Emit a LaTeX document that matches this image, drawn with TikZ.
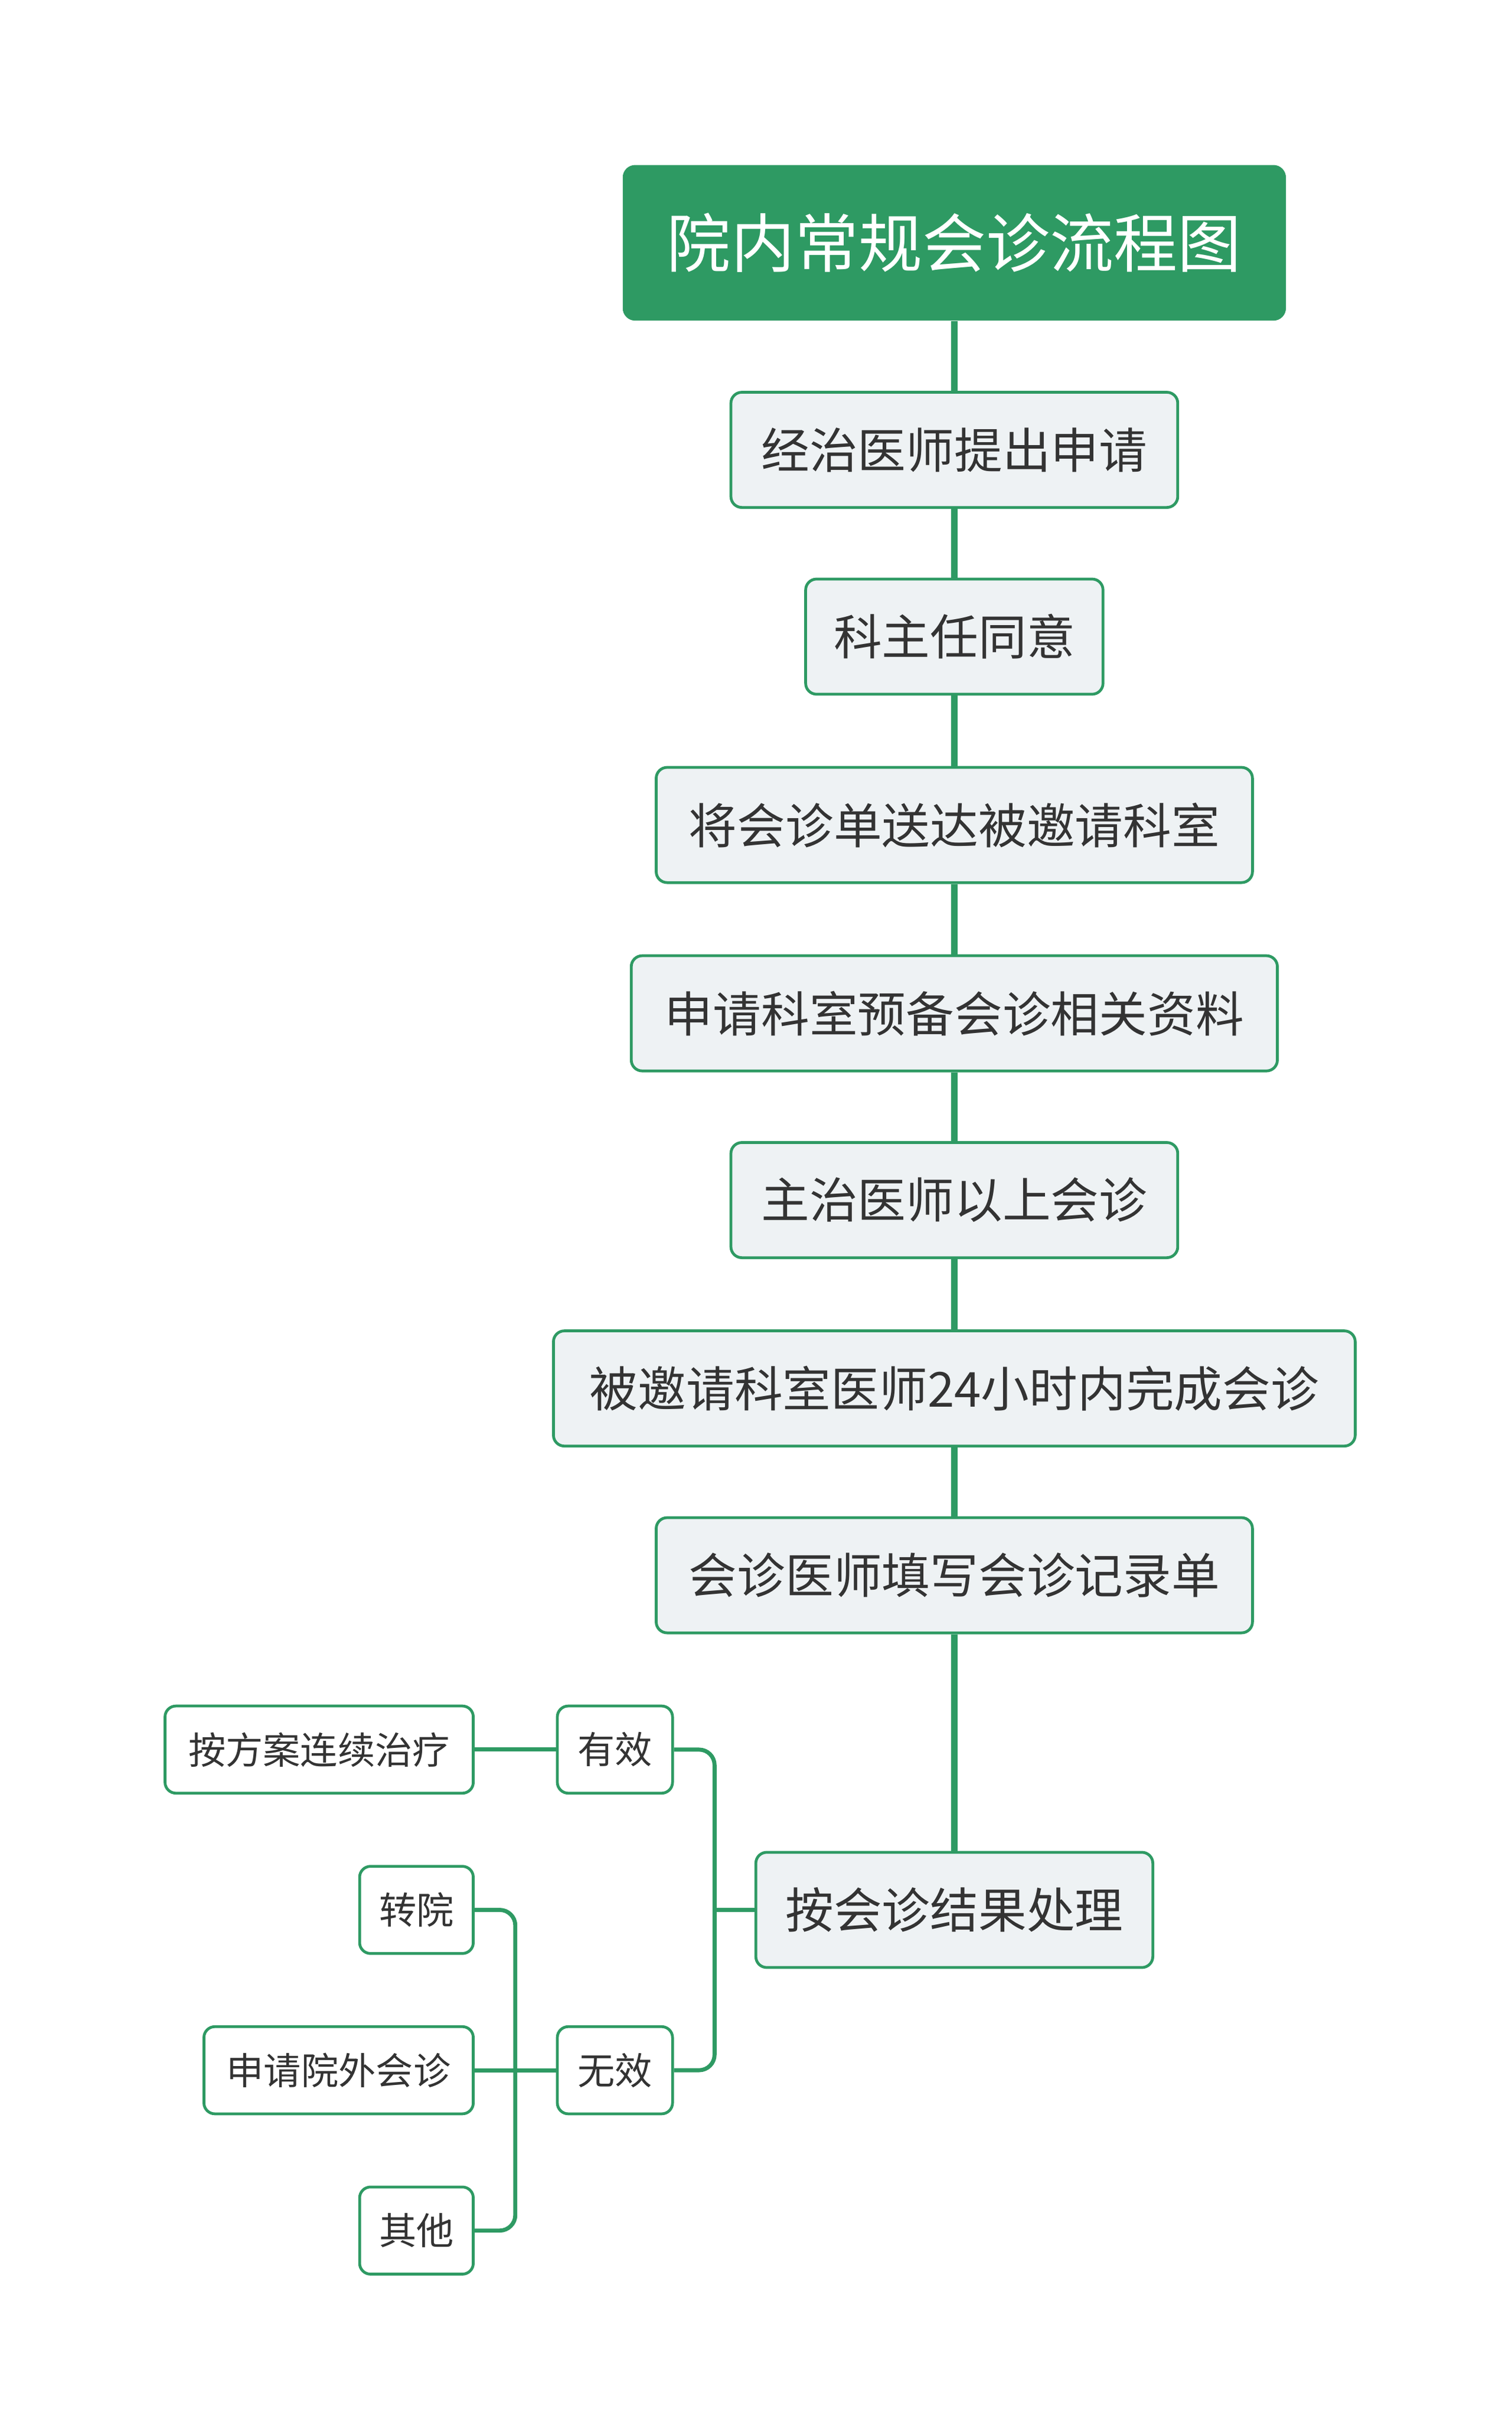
\documentclass[tikz,border=0pt]{standalone}
\usepackage{fontspec}
\setmainfont{Noto Sans CJK SC}
\definecolor{gr}{HTML}{2E9A63}
\definecolor{bx}{HTML}{EEF2F4}
\definecolor{tx}{HTML}{333333}
\begin{document}
\begin{tikzpicture}[x=1pt,y=-1pt,
 box/.style={draw=gr,line width=1.8pt,fill=bx,rounded corners=7pt,text=tx,inner sep=0pt,minimum height=74pt,font=\fontsize{31}{34}\selectfont},
 sbox/.style={draw=gr,line width=1.8pt,fill=white,rounded corners=7pt,text=tx,inner sep=0pt,minimum height=56pt,font=\fontsize{24}{27}\selectfont},
 ln/.style={draw=gr,line width=4pt},
 sl/.style={draw=gr,line width=2.6pt,rounded corners=10pt}]
\useasboundingbox (0,0) rectangle (971,1556);
\node[fill=gr,rounded corners=8pt,minimum width=426pt,minimum height=100pt,text=white,font=\fontsize{41}{46}\selectfont] (t) at (613,156) {院内常规会诊流程图};
\node[box,minimum width=287pt] (n1) at (613,289) {经治医师提出申请};
\node[box,minimum width=191pt] (n2) at (613,409) {科主任同意};
\node[box,minimum width=383pt] (n3) at (613,530) {将会诊单送达被邀请科室};
\node[box,minimum width=415pt] (n4) at (613,651) {申请科室预备会诊相关资料};
\node[box,minimum width=287pt] (n5) at (613,771) {主治医师以上会诊};
\node[box,minimum width=515pt] (n6) at (613,892) {被邀请科室医师24小时内完成会诊};
\node[box,minimum width=383pt] (n7) at (613,1012) {会诊医师填写会诊记录单};
\node[box,minimum width=255pt] (n8) at (613,1227) {按会诊结果处理};
\node[sbox,minimum width=74pt] (y) at (395,1124) {有效};
\node[sbox,minimum width=74pt] (w) at (395,1330) {无效};
\node[sbox,minimum width=198pt] (a) at (205,1124) {按方案连续治疗};
\node[sbox,minimum width=73pt] (b) at (267.5,1227) {转院};
\node[sbox,minimum width=173pt] (c) at (217.5,1330) {申请院外会诊};
\node[sbox,minimum width=73pt] (d) at (267.5,1433) {其他};
\draw[ln] (t.south) -- (n1.north);
\draw[ln] (n1.south) -- (n2.north);
\draw[ln] (n2.south) -- (n3.north);
\draw[ln] (n3.south) -- (n4.north);
\draw[ln] (n4.south) -- (n5.north);
\draw[ln] (n5.south) -- (n6.north);
\draw[ln] (n6.south) -- (n7.north);
\draw[ln] (n7.south) -- (n8.north);
\coordinate (j1) at (459,1227);
\coordinate (j2) at (331,1330);
\draw[sl] (n8.west) -- (j1);
\draw[sl] (y.east) -| (j1) |- (w.east);
\draw[sl] (y.west) -- (a.east);
\draw[sl] (w.west) -- (c.east);
\draw[sl] (b.east) -| (j2) |- (d.east);
\end{tikzpicture}
\end{document}
